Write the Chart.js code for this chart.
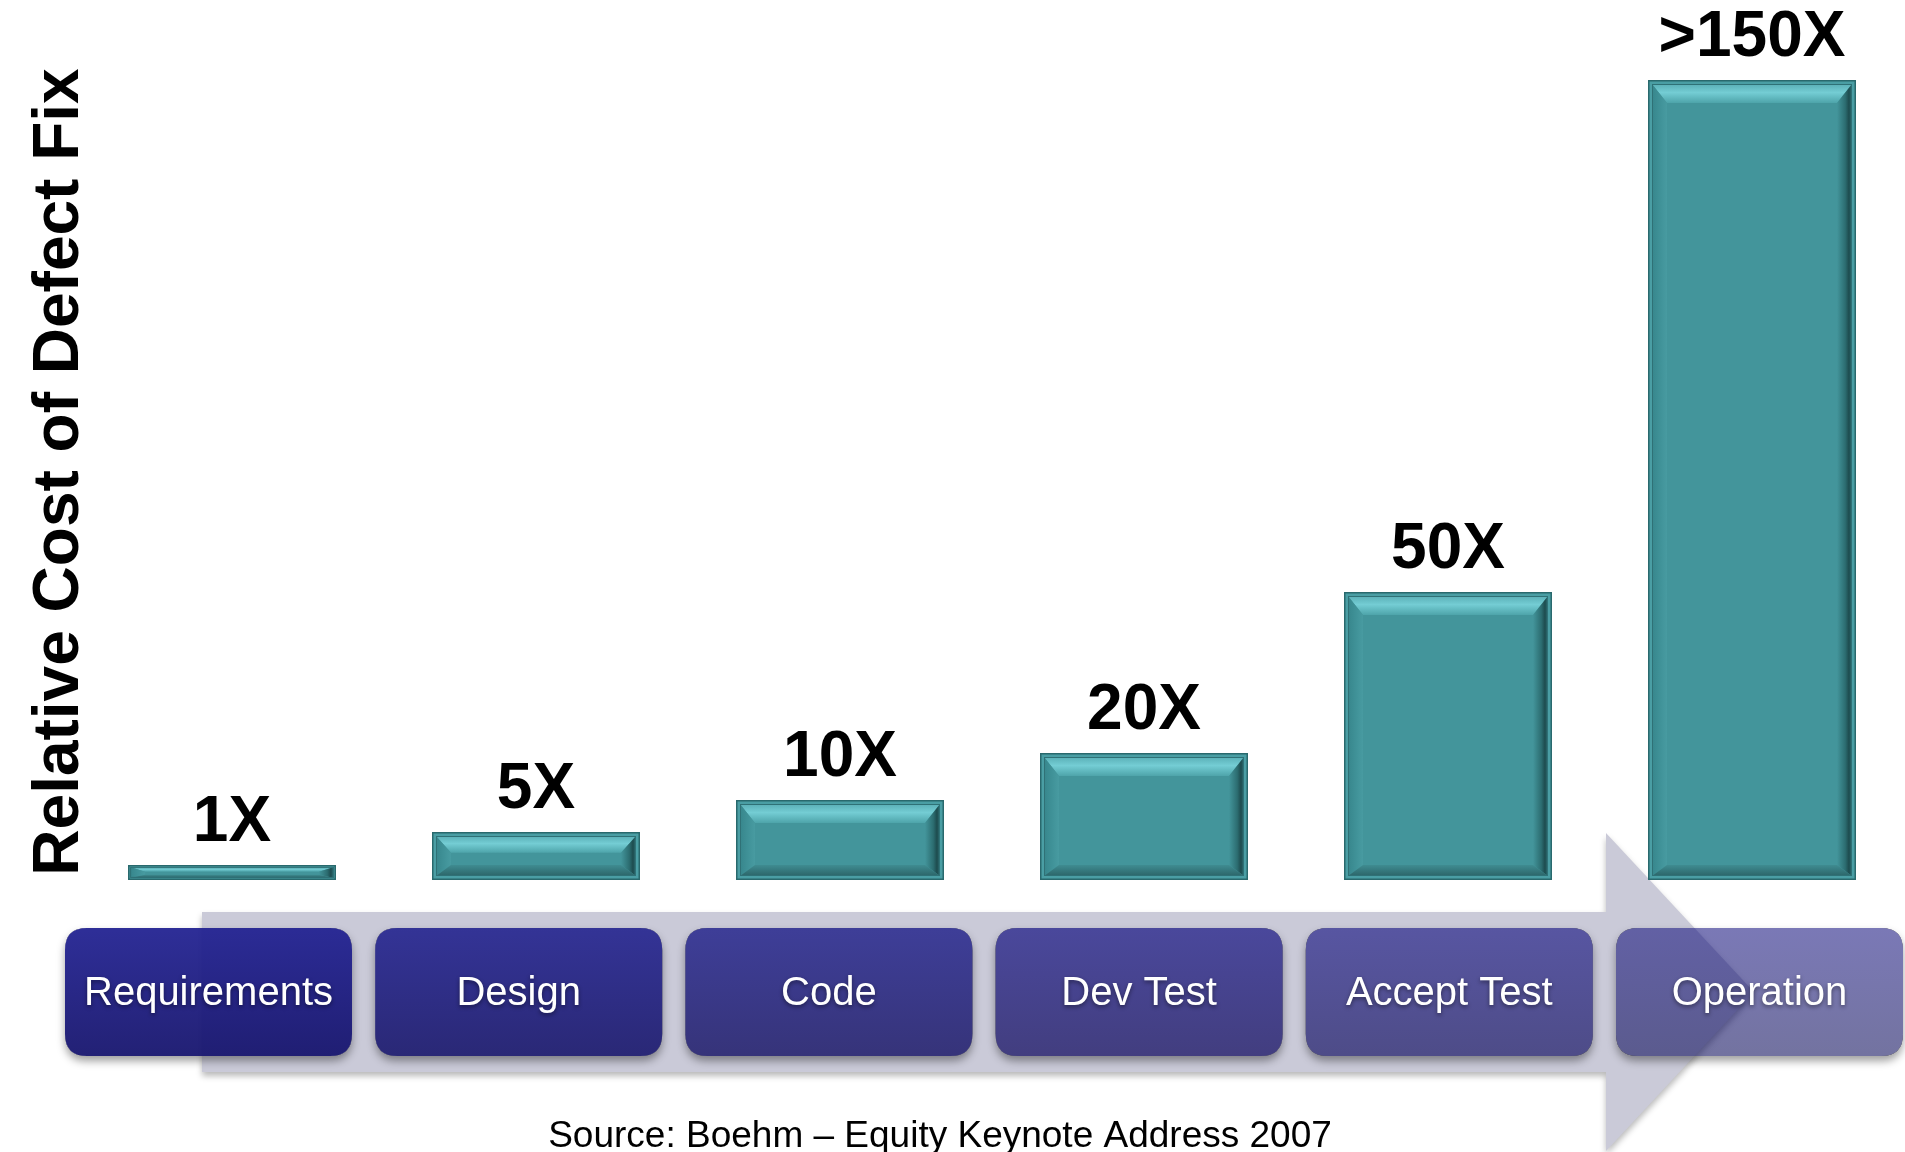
<!DOCTYPE html>
<html>
<head>
<meta charset="utf-8">
<script src="https://cdn.jsdelivr.net/npm/chart.js@4.4.1/dist/chart.umd.min.js"></script>
<style>
    html, body { margin: 0; padding: 0; background: #ffffff; }
    #chart-container { width: 1905px; height: 1152px; }
</style>
</head>
<body>
<div id="chart-container">
    <canvas id="cost-chart" width="1905" height="1152"></canvas>
</div>
<script>
// Data (bar heights are the drawn heights, in relative units)
const stages = ['Requirements', 'Design', 'Code', 'Dev Test', 'Accept Test', 'Operation'];
const barHeights = [15, 48, 80, 127, 288, 800];
const valueLabels = ['1X', '5X', '10X', '20X', '50X', '>150X'];
const yTitle = 'Relative Cost of Defect Fix';
const sourceNote = 'Source: Boehm – Equity Keynote Address 2007';

// Box styling (process boxes get more transparent to the right)
const boxTop = ['rgb(35,35,146)', 'rgb(31,31,141)', 'rgb(27,27,136)', 'rgb(24,21,132)', 'rgb(23,20,131)', 'rgb(13,10,122)'];
const boxBottom = ['rgb(23,21,110)', 'rgb(20,18,105)', 'rgb(17,14,98)', 'rgb(13,7,93)', 'rgb(8,5,91)', 'rgb(0,0,82)'];
const boxAlpha = [0.95, 0.88, 0.80, 0.72, 0.64, 0.55];

const FONT = '"Liberation Sans", Arial, sans-serif';

function roundRectPath(ctx, x, y, w, h, r) {
    ctx.moveTo(x + r, y);
    ctx.lineTo(x + w - r, y);
    ctx.quadraticCurveTo(x + w, y, x + w, y + r);
    ctx.lineTo(x + w, y + h - r);
    ctx.quadraticCurveTo(x + w, y + h, x + w - r, y + h);
    ctx.lineTo(x + r, y + h);
    ctx.quadraticCurveTo(x, y + h, x, y + h - r);
    ctx.lineTo(x, y + r);
    ctx.quadraticCurveTo(x, y, x + r, y);
    ctx.closePath();
}

function poly(ctx, pts, fill) {
    ctx.beginPath();
    ctx.moveTo(pts[0][0], pts[0][1]);
    for (let i = 1; i < pts.length; i++) ctx.lineTo(pts[i][0], pts[i][1]);
    ctx.closePath();
    ctx.fillStyle = fill;
    ctx.fill();
}

function drawBevel(ctx, L, T, R, B) {
    const h = B - T, w = R - L;
    const rim = Math.min(4, h * 0.14);
    const l = L + rim, r = R - rim, t = T + rim, b = B - rim;
    const dTop = Math.min(19, (b - t) * 0.42);
    const dBot = Math.min(11, (b - t) * 0.3);
    const dSide = Math.min(15, w * 0.075);
    const il = l + dSide, ir = r - dSide, it = t + dTop, ib = b - dBot;

    // outer rim
    ctx.beginPath();
    ctx.rect(L, T, w, h);
    ctx.rect(l, t, r - l, b - t);
    ctx.fillStyle = '#4a9ea4';
    ctx.fill('evenodd');

    // top face
    let g = ctx.createLinearGradient(0, t, 0, it);
    g.addColorStop(0, '#5aafb6');
    g.addColorStop(0.45, '#74cdd4');
    g.addColorStop(1, '#4ea4aa');
    poly(ctx, [[l, t], [r, t], [ir, it], [il, it]], g);

    // left face
    g = ctx.createLinearGradient(l, 0, il, 0);
    g.addColorStop(0, '#37868c');
    g.addColorStop(0.5, '#3f9197');
    g.addColorStop(1, '#489ba1');
    poly(ctx, [[l, t], [il, it], [il, ib], [l, b]], g);

    // right face
    g = ctx.createLinearGradient(ir, 0, r, 0);
    g.addColorStop(0, '#43959b');
    g.addColorStop(0.55, '#2c6d71');
    g.addColorStop(0.8, '#1d4b4e');
    g.addColorStop(1, '#2f7378');
    poly(ctx, [[r, t], [r, b], [ir, ib], [ir, it]], g);

    // bottom face
    g = ctx.createLinearGradient(0, ib, 0, b);
    g.addColorStop(0, '#3f8c91');
    g.addColorStop(1, '#2c6569');
    poly(ctx, [[l, b], [r, b], [ir, ib], [il, ib]], g);

    // lines
    ctx.lineWidth = 1;
    ctx.strokeStyle = '#2f7176';
    ctx.strokeRect(l + 0.5, t + 0.5, r - l - 1, b - t - 1);
    ctx.lineWidth = 1.5;
    ctx.strokeStyle = '#29696d';
    ctx.strokeRect(L + 0.75, T + 0.75, w - 1.5, h - 1.5);
}

// grey process arrow behind the stage boxes
const processArrow = {
    id: 'processArrow',
    beforeDatasetsDraw(chart) {
        const ctx = chart.ctx;
        const base = chart.chartArea.bottom;
        const bodyTop = base + 32, bodyBottom = base + 192;
        const mid = (bodyTop + bodyBottom) / 2;
        ctx.save();
        ctx.fillStyle = '#cacad8';
        ctx.shadowColor = 'rgba(0,0,0,0.28)';
        ctx.shadowBlur = 6;
        ctx.shadowOffsetY = 4;
        ctx.beginPath();
        ctx.moveTo(202, bodyTop);
        ctx.lineTo(1606, bodyTop);
        ctx.lineTo(1606, mid - 159);
        ctx.lineTo(1754, mid);
        ctx.lineTo(1606, mid + 159);
        ctx.lineTo(1606, bodyBottom);
        ctx.lineTo(202, bodyBottom);
        ctx.closePath();
        ctx.fill();
        ctx.restore();
    }
};

// bevel on every bar plus the "NX" labels above
const bevelLabels = {
    id: 'bevelLabels',
    afterDatasetsDraw(chart) {
        const ctx = chart.ctx;
        const meta = chart.getDatasetMeta(0);
        ctx.save();
        meta.data.forEach((bar, i) => {
            const p = bar.getProps(['x', 'y', 'base', 'width'], true);
            drawBevel(ctx, p.x - p.width / 2, p.y, p.x + p.width / 2, p.base);
            ctx.fillStyle = '#000000';
            ctx.font = 'bold 64px ' + FONT;
            ctx.textAlign = 'center';
            ctx.textBaseline = 'alphabetic';
            ctx.fillText(valueLabels[i], p.x, p.y - 24);
        });
        ctx.restore();
    }
};

// stage boxes, axis title and source line
const stageBoxes = {
    id: 'stageBoxes',
    afterDraw(chart) {
        const ctx = chart.ctx;
        const ca = chart.chartArea;
        const boxW = 287, boxH = 128, step = 310.2, radius = 22;
        const y0 = ca.bottom + 48;

        stages.forEach((name, i) => {
            const x0 = 65 + i * step;

            // shadow only outside the box
            ctx.save();
            ctx.beginPath();
            ctx.rect(0, 0, chart.width, chart.height);
            roundRectPath(ctx, x0, y0, boxW, boxH, radius);
            ctx.clip('evenodd');
            ctx.shadowColor = 'rgba(0,0,0,0.38)';
            ctx.shadowBlur = 9;
            ctx.shadowOffsetY = 5;
            ctx.fillStyle = '#000';
            ctx.beginPath();
            roundRectPath(ctx, x0, y0, boxW, boxH, radius);
            ctx.fill();
            ctx.restore();

            ctx.save();
            const g = ctx.createLinearGradient(0, y0, 0, y0 + boxH);
            g.addColorStop(0, boxTop[i]);
            g.addColorStop(1, boxBottom[i]);
            ctx.globalAlpha = boxAlpha[i];
            ctx.fillStyle = g;
            ctx.beginPath();
            roundRectPath(ctx, x0, y0, boxW, boxH, radius);
            ctx.fill();
            ctx.restore();

            ctx.save();
            ctx.fillStyle = '#ffffff';
            ctx.font = '40px ' + FONT;
            ctx.textAlign = 'center';
            ctx.textBaseline = 'alphabetic';
            ctx.shadowColor = 'rgba(0,0,0,0.45)';
            ctx.shadowBlur = 4;
            ctx.shadowOffsetY = 2;
            ctx.fillText(name, x0 + boxW / 2, y0 + 77);
            ctx.restore();
        });

        // y axis title
        ctx.save();
        ctx.translate(78, (ca.top + ca.bottom) / 2 - 8);
        ctx.rotate(-Math.PI / 2);
        ctx.fillStyle = '#000000';
        ctx.font = 'bold 64px ' + FONT;
        ctx.textAlign = 'center';
        ctx.textBaseline = 'alphabetic';
        ctx.fillText(yTitle, 0, 0);
        ctx.restore();

        // source
        ctx.save();
        ctx.fillStyle = '#000000';
        ctx.font = '37px ' + FONT;
        ctx.textAlign = 'center';
        ctx.textBaseline = 'alphabetic';
        ctx.fillText(sourceNote, 940, 1147);
        ctx.restore();
    }
};

const ctx = document.getElementById('cost-chart').getContext('2d');
const costChart = new Chart(ctx, {
    type: 'bar',
    data: {
        labels: stages,
        datasets: [{
            label: 'Relative cost',
            data: barHeights,
            backgroundColor: '#43959b',
            borderWidth: 0,
            categoryPercentage: 1,
            barPercentage: 208 / 304
        }]
    },
    options: {
        responsive: false,
        devicePixelRatio: 1,
        animation: false,
        layout: {
            padding: { left: 80, right: 1, top: 80, bottom: 272 }
        },
        plugins: {
            legend: { display: false },
            tooltip: { enabled: false },
            title: { display: false }
        },
        scales: {
            x: { display: false },
            y: { display: false, min: 0, max: 800 }
        }
    },
    plugins: [processArrow, bevelLabels, stageBoxes]
});
</script>
</body>
</html>
